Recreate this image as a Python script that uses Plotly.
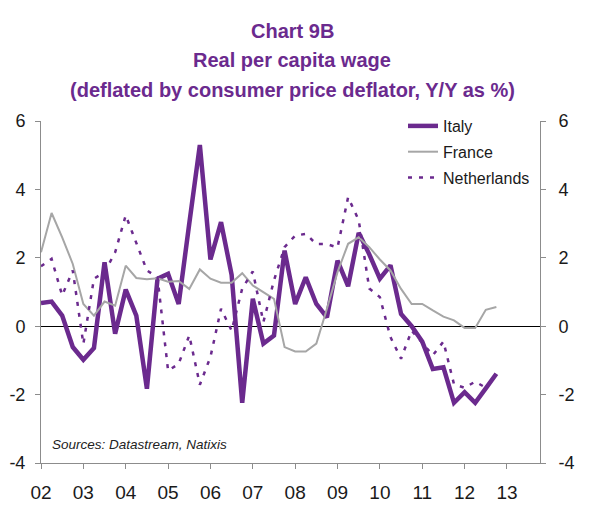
import plotly.graph_objects as go

# Quarterly observations, 2002Q1 .. 2012Q4
quarters = [f"{y}Q{q}" for y in range(2002, 2013) for q in range(1, 5)]

italy = [0.68, 0.72, 0.31, -0.61,
         -0.98, -0.64, 1.87, -0.22,
         1.07, 0.31, -1.83, 1.39,
         1.53, 0.65, 3.0, 5.30,
         1.95, 3.04, 1.5, -2.24,
         0.80, -0.51, -0.27, 2.21,
         0.65, 1.43, 0.65, 0.26,
         1.92, 1.17, 2.73, 2.1,
         1.39, 1.78, 0.36, 0.0,
         -0.45, -1.25, -1.2, -2.24,
         -1.93, -2.24, -1.82, -1.39]

france = [2.16, 3.31, 2.6, 1.82,
          0.65, 0.31, 0.72, 0.6,
          1.77, 1.41, 1.37, 1.4,
          1.3, 1.32, 1.09, 1.66,
          1.39, 1.27, 1.27, 1.55,
          1.19, 0.99, 0.8, -0.61,
          -0.74, -0.74, -0.51, 0.51,
          1.58, 2.41, 2.6, 2.31,
          1.95, 1.63, 1.09, 0.65,
          0.65, 0.46, 0.28, 0.17,
          -0.05, -0.05, 0.48, 0.56]

netherlands = [1.75, 1.97, 0.9, 1.63,
               -0.52, 1.39, 1.58, 2.16,
               3.24, 2.41, 1.63, 1.43,
               -1.3, -1.1, -0.27, -1.71,
               -0.9, 0.51, -0.13, 1.1,
               1.6, 0.12, 1.34, 2.31,
               2.65, 2.7, 2.4, 2.4,
               2.3, 3.77, 3.1, 1.1,
               0.85, -0.32, -0.95, -0.13,
               -0.5, -0.85, -0.45, -1.7,
               -1.8, -1.62, -1.8]

year_ticks = list(range(2002, 2014))
year_labels = [f"{y % 100:02d}" for y in year_ticks]
y_ticks = [-4, -2, 0, 2, 4, 6]
y_labels = [str(v) for v in y_ticks]

title_lines = ["Chart 9B", "Real per capita wage",
               "(deflated by consumer price deflator, Y/Y as %)"]
source_text = "Sources: Datastream, Natixis"


def qpos(label):
    y, q = label.split("Q")
    return int(y) + (int(q) - 1) / 4


xq = [qpos(s) for s in quarters]

PURPLE = "#6B2A8E"
GREY = "#A6A6A6"
AXIS = "#8C8C8C"
FONT = "Liberation Sans, Arial, sans-serif"

fig = go.Figure()
fig.add_trace(go.Scatter(x=xq[:len(italy)], y=italy, name="Italy", mode="lines",
                         line=dict(color=PURPLE, width=4.5), legendgroup="a"))
fig.add_trace(go.Scatter(x=xq[:len(france)], y=france, name="France", mode="lines",
                         line=dict(color=GREY, width=2), legendgroup="b"))
fig.add_trace(go.Scatter(x=xq[:len(netherlands)], y=netherlands, name="Netherlands",
                         mode="lines", legendgroup="c",
                         line=dict(color=PURPLE, width=2.5, dash="4px,7px")))
# invisible trace to carry the right-hand axis
fig.add_trace(go.Scatter(x=[xq[0]], y=[0], yaxis="y2", mode="lines",
                         line=dict(width=0), showlegend=False, hoverinfo="skip"))

W, H = 589, 518
# plot area in page pixels: x 41..540, y 121..463
L, T = 41, 121
R, B = W - 540, H - 463
pw, ph = W - L - R, H - T - B


def px_x(p):
    return (p - L) / pw


def px_y(p):
    return (H - B - p) / ph


annotations = []
for txt, ypx in zip(title_lines, [31, 60, 90]):
    annotations.append(dict(text=f"<b>{txt}</b>", xref="paper", yref="paper",
                            x=px_x(292), y=px_y(ypx), xanchor="center",
                            yanchor="middle", showarrow=False,
                            font=dict(family=FONT, size=20, color=PURPLE)))
annotations.append(dict(text=f"<i>{source_text}</i>", xref="paper", yref="paper",
                        x=px_x(50), y=px_y(444), xanchor="left",
                        yanchor="middle", showarrow=False,
                        font=dict(family=FONT, size=13.5, color="#222222")))

fig.update_layout(
    width=W, height=H,
    margin=dict(l=L, r=R, t=T, b=B, autoexpand=False),
    paper_bgcolor="white", plot_bgcolor="white",
    font=dict(family=FONT, color="#1A1A1A"),
    showlegend=True,
    legend=dict(x=px_x(403), y=px_y(109), xanchor="left", yanchor="top",
                bgcolor="rgba(0,0,0,0)", font=dict(size=16, color="#1A1A1A"),
                tracegroupgap=2, traceorder="grouped"),
    xaxis=dict(range=[2002, 2013.78], tickvals=year_ticks, ticktext=year_labels,
               showgrid=False, zeroline=False, showline=True, linecolor=AXIS,
               linewidth=1, ticks="outside", ticklen=5, tickcolor=AXIS,
               tickfont=dict(size=19), ticklabelstandoff=7, automargin=False),
    yaxis=dict(range=[-4, 6], tickvals=y_ticks, ticktext=y_labels, showgrid=False,
               zeroline=True, zerolinecolor="black", zerolinewidth=1, showline=True,
               linecolor=AXIS, ticks="outside", ticklen=5, tickcolor=AXIS,
               tickfont=dict(size=18), ticklabelstandoff=6, automargin=False),
    yaxis2=dict(range=[-4, 6], tickvals=y_ticks, ticktext=y_labels, overlaying="y",
                side="right", showgrid=False, zeroline=False, showline=True,
                linecolor=AXIS, ticks="outside", ticklen=5, tickcolor=AXIS,
                tickfont=dict(size=18), ticklabelstandoff=9, automargin=False),
    annotations=annotations,
)

fig.write_html("out.html",
               config={"displayModeBar": False},
               post_script="document.body.style.margin='0';document.body.style.overflow='hidden';")
